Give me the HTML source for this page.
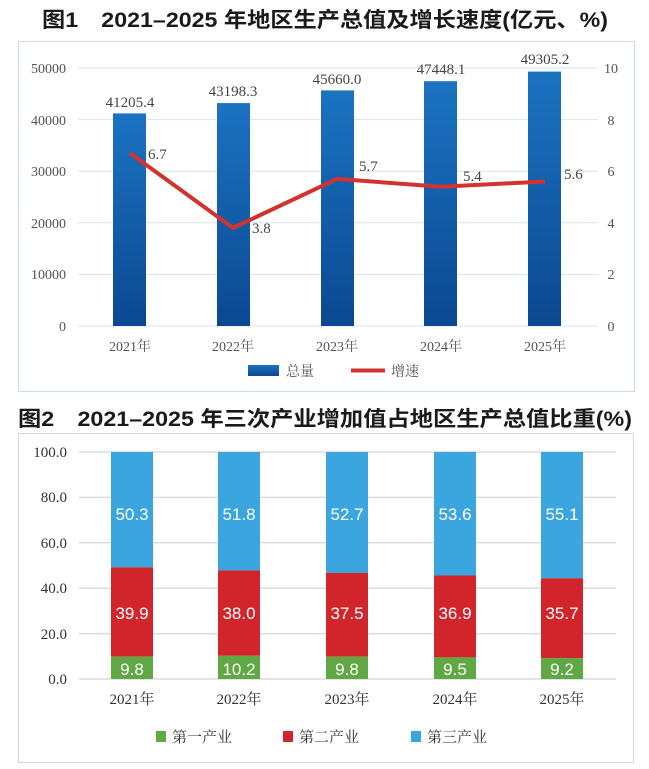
<!DOCTYPE html>
<html><head><meta charset="utf-8"><style>
html,body{margin:0;padding:0;background:#fff;}
svg{display:block;font-family:"Liberation Serif","Noto Serif CJK SC",serif;}
.t{font-family:"Liberation Sans","Noto Sans CJK SC",sans-serif;font-size:21px;font-weight:bold;fill:#1a1a1a;}
.ax{font-size:14px;fill:#555;}
.ax2{font-size:15px;fill:#333;}
.v{font-size:15px;fill:#444;}
.w{font-family:"Liberation Sans","Noto Sans CJK SC",sans-serif;font-size:17px;fill:#fff;}
</style></head><body>
<svg width="649" height="769" viewBox="0 0 649 769">
<defs>
<linearGradient id="bg" x1="0" y1="0" x2="0" y2="1"><stop offset="0" stop-color="#1b73c2"/><stop offset="1" stop-color="#0b4891"/></linearGradient>
</defs>
<!-- Chart 1 -->
<text class="t" x="42" y="27" textLength="566" lengthAdjust="spacingAndGlyphs">图1　2021–2025 年地区生产总值及增长速度(亿元、%)</text>
<rect x="18.5" y="41.5" width="616" height="350" fill="#fff" stroke="#c9dff0"/>
<g stroke="#d3e6f5" stroke-width="1">
<line x1="78" x2="598" y1="68" y2="68"/><line x1="78" x2="598" y1="119.6" y2="119.6"/><line x1="78" x2="598" y1="171.2" y2="171.2"/><line x1="78" x2="598" y1="222.8" y2="222.8"/><line x1="78" x2="598" y1="274.4" y2="274.4"/><line x1="78" x2="598" y1="326" y2="326"/>
</g>
<g class="ax" text-anchor="end">
<text x="66" y="73">50000</text><text x="66" y="125">40000</text><text x="66" y="176">30000</text><text x="66" y="228">20000</text><text x="66" y="279">10000</text><text x="66" y="331">0</text>
</g>
<g class="ax" text-anchor="middle">
<text x="611" y="73">10</text><text x="611" y="125">8</text><text x="611" y="176">6</text><text x="611" y="228">4</text><text x="611" y="279">2</text><text x="611" y="331">0</text>
</g>
<g fill="url(#bg)">
<rect x="113" y="113.4" width="33" height="212.6"/>
<rect x="217" y="103.1" width="33" height="222.9"/>
<rect x="321" y="90.4" width="33" height="235.6"/>
<rect x="424" y="81.2" width="33" height="244.8"/>
<rect x="528" y="71.6" width="33" height="254.4"/>
</g>
<g class="v" text-anchor="middle">
<text x="130" y="107">41205.4</text><text x="233" y="96">43198.3</text><text x="337" y="84">45660.0</text><text x="441" y="74">47448.1</text><text x="545" y="64">49305.2</text>
</g>
<polyline points="130,153.1 233,227.9 337,178.9 441,186.7 545,181.5" fill="none" stroke="#d2332f" stroke-width="4" stroke-linejoin="round"/>
<g class="v">
<text x="148" y="159">6.7</text><text x="252" y="233">3.8</text><text x="359" y="171">5.7</text><text x="463" y="181">5.4</text><text x="564" y="179">5.6</text>
</g>
<g class="ax" text-anchor="middle" fill="#444">
<text x="130" y="351">2021年</text><text x="233" y="351">2022年</text><text x="337" y="351">2023年</text><text x="441" y="351">2024年</text><text x="545" y="351">2025年</text>
</g>
<rect x="248" y="365" width="31" height="11" fill="url(#bg)"/>
<text class="ax" x="286" y="376" fill="#444">总量</text>
<line x1="351" x2="385" y1="370.5" y2="370.5" stroke="#d2332f" stroke-width="4"/>
<text class="ax" x="391" y="376" fill="#444">增速</text>

<!-- Chart 2 -->
<text class="t" x="18" y="426" textLength="614" lengthAdjust="spacingAndGlyphs">图2　2021–2025 年三次产业增加值占地区生产总值比重(%)</text>
<rect x="18.5" y="433.5" width="615" height="329" fill="#fff" stroke="#d8d8d8"/>
<g stroke="#dcdcdc" stroke-width="1.5">
<line x1="79" x2="616" y1="452" y2="452"/><line x1="79" x2="616" y1="497.4" y2="497.4"/><line x1="79" x2="616" y1="542.8" y2="542.8"/><line x1="79" x2="616" y1="588.2" y2="588.2"/><line x1="79" x2="616" y1="633.6" y2="633.6"/><line x1="79" x2="616" y1="679" y2="679"/>
</g>
<g class="ax2" text-anchor="end">
<text x="67" y="457">100.0</text><text x="67" y="502">80.0</text><text x="67" y="548">60.0</text><text x="67" y="593">40.0</text><text x="67" y="639">20.0</text><text x="67" y="684">0.0</text>
</g>
<g>
<rect x="111" y="452" width="42" height="115.3" fill="#3aa5de"/><rect x="111" y="567.3" width="42" height="89.4" fill="#d1252b"/><rect x="111" y="656.7" width="42" height="22.3" fill="#5fa844"/>
<rect x="218" y="452" width="42" height="118.4" fill="#3aa5de"/><rect x="218" y="570.4" width="42" height="85.4" fill="#d1252b"/><rect x="218" y="655.8" width="42" height="23.2" fill="#5fa844"/>
<rect x="326" y="452" width="42" height="120.9" fill="#3aa5de"/><rect x="326" y="572.9" width="42" height="83.8" fill="#d1252b"/><rect x="326" y="656.7" width="42" height="22.3" fill="#5fa844"/>
<rect x="434" y="452" width="42" height="123.5" fill="#3aa5de"/><rect x="434" y="575.5" width="42" height="81.9" fill="#d1252b"/><rect x="434" y="657.4" width="42" height="21.6" fill="#5fa844"/>
<rect x="541" y="452" width="42" height="126.3" fill="#3aa5de"/><rect x="541" y="578.3" width="42" height="79.8" fill="#d1252b"/><rect x="541" y="658.1" width="42" height="20.9" fill="#5fa844"/>
</g>
<g class="w" text-anchor="middle">
<text x="132" y="520">50.3</text><text x="132" y="619">39.9</text><text x="132" y="675">9.8</text>
<text x="239" y="520">51.8</text><text x="239" y="619">38.0</text><text x="239" y="675">10.2</text>
<text x="347" y="520">52.7</text><text x="347" y="619">37.5</text><text x="347" y="675">9.8</text>
<text x="455" y="520">53.6</text><text x="455" y="619">36.9</text><text x="455" y="675">9.5</text>
<text x="562" y="520">55.1</text><text x="562" y="619">35.7</text><text x="562" y="675">9.2</text>
</g>
<g class="ax2" text-anchor="middle">
<text x="132" y="704">2021年</text><text x="239" y="704">2022年</text><text x="347" y="704">2023年</text><text x="455" y="704">2024年</text><text x="562" y="704">2025年</text>
</g>
<rect x="156" y="731" width="10" height="11" fill="#5fa844"/><text class="ax2" x="172" y="742">第一产业</text>
<rect x="283" y="731" width="10" height="11" fill="#d1252b"/><text class="ax2" x="299" y="742">第二产业</text>
<rect x="411" y="731" width="10" height="11" fill="#3aa5de"/><text class="ax2" x="427" y="742">第三产业</text>
</svg>
</body></html>
